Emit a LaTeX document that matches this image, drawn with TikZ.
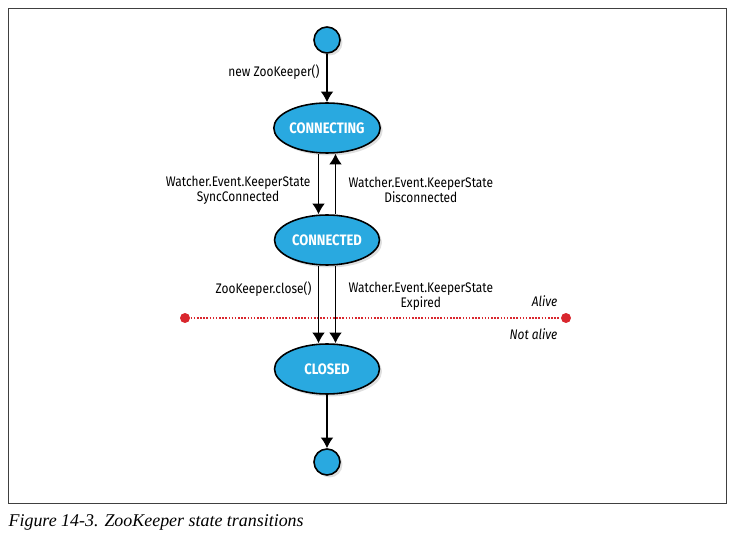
\documentclass[tikz,border=0pt]{standalone}
\usepackage{fontspec}
\usetikzlibrary{arrows.meta,shapes.geometric,shadows}
\newfontfamily\figfont[FakeStretch=0.86]{Fira Sans}
\newfontfamily\capfont{Liberation Serif}

\definecolor{statefill}{HTML}{29A9E0}
\definecolor{alivered}{HTML}{D9272E}

\tikzset{
	state/.style={ellipse, draw=black, line width=0.9pt, fill=statefill,
		minimum width=2.1cm, minimum height=1.0cm, inner sep=0pt,
		text=white, font=\figfont\bfseries\fontsize{8.6}{10}\selectfont,
		drop shadow={shadow xshift=0.05cm, shadow yshift=-0.05cm, opacity=0.25}},
	endpoint/.style={circle, draw=black, line width=0.9pt, fill=statefill,
		minimum size=0.52cm, inner sep=0pt,
		drop shadow={shadow xshift=0.05cm, shadow yshift=-0.05cm, opacity=0.25}},
	trans/.style={align=center, inner sep=0pt, font=\figfont\fontsize{7.9}{8.6}\selectfont},
	alivedot/.style={circle, fill=alivered, minimum size=0.2cm, inner sep=0pt},
	side/.style={inner sep=0pt, font=\figfont\itshape\fontsize{7.9}{9}\selectfont}
}

\begin{document}
\begin{tikzpicture}[x=0.02cm, y=-0.02cm, >={Latex[length=2.1mm,width=2.5mm]}, line width=0.7pt]
					\useasboundingbox (0,0) rectangle (735,537);

					% Frame and caption
						\draw [line width=0.5pt, black!75] (8,8) rectangle (726,503);
						\node (caption) [anchor=base west, inner sep=0pt, font=\capfont\itshape\fontsize{10.2}{12}\selectfont] at (8,527) {Figure 14-3. ZooKeeper state transitions};

					% States
						\node [endpoint] (start) at (327,40) {};
						\node [state] (connecting) at (327,128) {CONNECTING};
						\node [state] (connected) at (327,240) {CONNECTED};
						\node [state] (closed) at (327,369) {CLOSED};
						\node [endpoint] (end) at (327,462) {};

					% Alive / not alive border
						\node [alivedot] (alivel) at (185,318) {};
						\node [alivedot] (aliver) at (566,318) {};
						\draw [alivered, line width=0.7pt, dash pattern=on 0.9pt off 0.9pt] (alivel) -- (aliver);
						\node [side, anchor=east] (alive) at (558,301) {Alive};
						\node [side, anchor=east] (notalive) at (558,334) {Not alive};

					% Transitions
						\draw [->] (start) -- (connecting);
						\draw [->] ([xshift=-0.17cm]connecting.south) -- ([xshift=-0.17cm]connected.north);
						\draw [<-] ([xshift=0.17cm]connecting.south) -- ([xshift=0.17cm]connected.north);
						\draw [->] ([xshift=-0.17cm]connected.south) -- ([xshift=-0.17cm]closed.north);
						\draw [->] ([xshift=0.17cm]connected.south) -- ([xshift=0.17cm]closed.north);
						\draw [->] (closed) -- (end);

					% Transition labels
						\node [trans, anchor=east] (newzk) at (320,72) {new ZooKeeper()};
						\node [trans, anchor=east] (syncconn) at (311,190) {Watcher.Event.KeeperState\\SyncConnected};
						\node [trans, anchor=west] (disconn) at (348,190) {Watcher.Event.KeeperState\\Disconnected};
						\node [trans, anchor=east] (zkclose) at (312,289) {ZooKeeper.close()};
						\node [trans, anchor=west] (expired) at (348,296) {Watcher.Event.KeeperState\\Expired};

					\end{tikzpicture}
\end{document}
